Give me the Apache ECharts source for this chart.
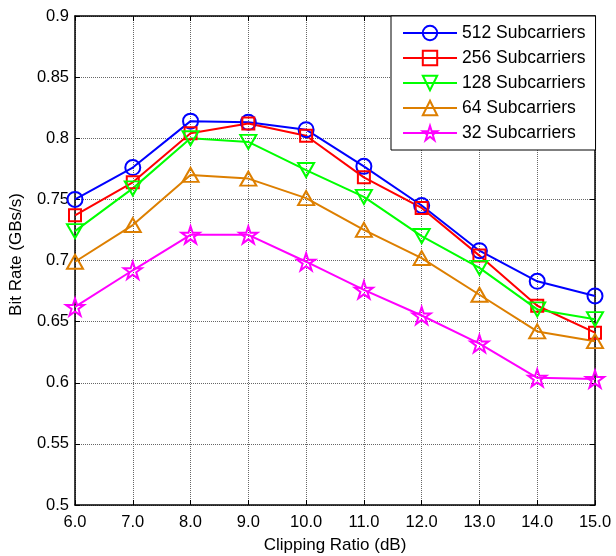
<!DOCTYPE html>
<html>
<head>
<meta charset="utf-8">
<script src="https://cdn.jsdelivr.net/npm/echarts@6/dist/echarts.min.js"></script>
<style>html,body{margin:0;padding:0;background:#fff;}#c{width:616px;height:556px;}</style>
</head>
<body>
<div id="c"></div>
<script>
const clippingRatio = [6, 7, 8, 9, 10, 11, 12, 13, 14, 15];
const sc512 = [0.750, 0.776, 0.814, 0.813, 0.807, 0.777, 0.745, 0.708, 0.683, 0.671];
const sc256 = [0.737, 0.764, 0.804, 0.812, 0.802, 0.768, 0.743, 0.704, 0.663, 0.641];
const sc128 = [0.724, 0.759, 0.800, 0.797, 0.774, 0.752, 0.720, 0.694, 0.660, 0.652];
const sc64  = [0.699, 0.729, 0.770, 0.767, 0.751, 0.725, 0.702, 0.672, 0.642, 0.634];
const sc32  = [0.662, 0.692, 0.721, 0.721, 0.699, 0.676, 0.655, 0.632, 0.604, 0.603];
const seriesNames = ['512 Subcarriers', '256 Subcarriers', '128 Subcarriers', '64 Subcarriers', '32 Subcarriers'];

const FONT = '"Liberation Sans", Arial, sans-serif';
const star = 'path://M50,0 L61.2,34.5 L97.6,34.5 L68.2,55.9 L79.4,90.5 L50,69.1 L20.6,90.5 L31.8,55.9 L2.4,34.5 L38.8,34.5 Z';

function mk(name, data, color, symbol, size, rotate) {
  return {
    name: name, type: 'line', xAxisIndex: 0, yAxisIndex: 0,
    data: clippingRatio.map((x, i) => [x, data[i]]),
    symbol: symbol, symbolSize: size, symbolRotate: rotate || 0, symbolKeepAspect: true,
    showAllSymbol: true,
    lineStyle: { color: color, width: 2 },
    itemStyle: { color: 'rgba(255,255,255,0)', borderColor: color, borderWidth: 2 },
    emphasis: { disabled: true },
    animation: false
  };
}

const chart = echarts.init(document.getElementById('c'));
const tickStyle = { show: true, inside: true, length: 5, lineStyle: { color: '#000', width: 1 } };
chart.setOption({
  backgroundColor: '#fff',
  animation: false,
  grid: { left: 75, right: 21, top: 16, bottom: 51, containLabel: false, outerBoundsMode: 'none' },
  legend: {
    data: seriesNames,
    orient: 'vertical',
    left: 391, top: 16, width: 202,
    padding: [8, 10, 8, 11],
    itemGap: 7, itemWidth: 54, itemHeight: 18,
    backgroundColor: '#fff', borderColor: '#000', borderWidth: 1,
    textStyle: { fontFamily: FONT, fontSize: 17.5, color: '#000' }
  },
  xAxis: [{
    type: 'value', min: 6, max: 15, interval: 1,
    name: 'Clipping Ratio (dB)', nameLocation: 'middle', nameGap: 32,
    nameTextStyle: { fontFamily: FONT, fontSize: 17, color: '#000' },
    axisLine: { show: true, lineStyle: { color: '#000', width: 1.5 } },
    axisTick: tickStyle,
    axisLabel: { fontFamily: FONT, fontSize: 16.5, color: '#000', margin: 9, formatter: v => v.toFixed(1) },
    splitLine: { show: true, lineStyle: { type: 'dotted', color: '#666', width: 1 } }
  }, {
    type: 'value', min: 6, max: 15, interval: 1, position: 'top',
    axisLine: { show: true, onZero: false, lineStyle: { color: '#000', width: 1.5 } },
    axisTick: tickStyle, axisLabel: { show: false }, splitLine: { show: false }
  }],
  yAxis: [{
    type: 'value', min: 0.5, max: 0.9, interval: 0.05,
    name: 'Bit Rate (GBs/s)', nameLocation: 'middle', nameGap: 50,
    nameTextStyle: { fontFamily: FONT, fontSize: 17, color: '#000', padding: [0, 0, 0, 12] },
    axisLine: { show: true, lineStyle: { color: '#000', width: 1.5 } },
    axisTick: tickStyle,
    axisLabel: { fontFamily: FONT, fontSize: 16.5, color: '#000', margin: 6, formatter: v => String(parseFloat(v.toFixed(2))) },
    splitLine: { show: true, lineStyle: { type: 'dotted', color: '#666', width: 1 } }
  }, {
    type: 'value', min: 0.5, max: 0.9, interval: 0.05, position: 'right',
    axisLine: { show: true, onZero: false, lineStyle: { color: '#000', width: 1.5 } },
    axisTick: tickStyle, axisLabel: { show: false }, splitLine: { show: false }
  }],
  series: [
    mk(seriesNames[0], sc512, '#0000ff', 'circle', 15),
    mk(seriesNames[1], sc256, '#ff0000', 'rect', 12),
    mk(seriesNames[2], sc128, '#00ff00', 'triangle', [16, 14], 180),
    mk(seriesNames[3], sc64, '#dd7f00', 'triangle', [16, 14]),
    mk(seriesNames[4], sc32, '#ff00ff', star, 18)
  ]
});
</script>
</body>
</html>
